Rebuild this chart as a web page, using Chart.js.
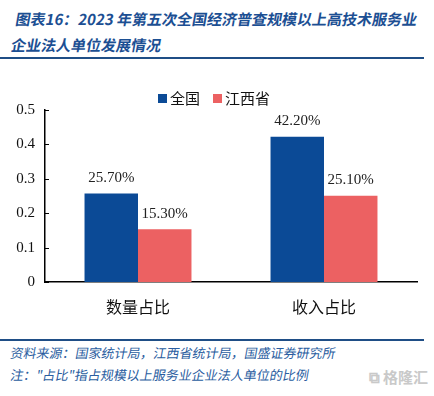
<!DOCTYPE html>
<html>
<head>
<meta charset="utf-8">
<script src="https://cdn.jsdelivr.net/npm/chart.js@4.4.1/dist/chart.umd.min.js"></script>
<style>
  html, body { margin:0; padding:0; background:#fff; }
  body { width:434px; height:396px; position:relative; overflow:hidden; font-family:"Noto Sans CJK SC", sans-serif; }
  .title { position:absolute; left:9px; top:6px; width:425px; color:#1c4f93; font-size:15px; font-weight:bold; line-height:26px; transform:skewX(-10deg); transform-origin:left bottom; white-space:nowrap; }
  .rule { position:absolute; left:0; width:424px; height:2px; background:#1f4e86; }
  .chartWrap { position:absolute; left:0; top:62px; width:434px; height:274px; }
  .legend { position:absolute; top:88px; left:158px; font-size:15px; color:#111; white-space:nowrap; line-height:20px; }
  .legend span.box { display:inline-block; width:9px; height:9px; margin-right:3px; vertical-align:1px; }
  .legend span.txt { margin-right:13px; }
  .foot { position:absolute; left:9px; color:#2a5da0; font-size:13px; transform:skewX(-10deg); transform-origin:left bottom; white-space:nowrap; }
  .wm { position:absolute; right:6px; top:366px; color:#c9c9c9; font-size:15px; font-weight:bold; }
</style>
</head>
<body>
<div class="title">图表16：2023 年第五次全国经济普查规模以上高技术服务业<br>企业法人单位发展情况</div>
<div class="rule" style="top:57px"></div>
<div class="chartWrap"><canvas id="chart"></canvas></div>
<div class="legend" id="legend"></div>
<div class="rule" style="top:339px"></div>
<div class="foot" style="top:343px">资料来源：国家统计局，江西省统计局，国盛证券研究所</div>
<div class="foot" style="top:365px">注："占比"指占规模以上服务业企业法人单位的比例</div>
<div class="wm">⧉ 格隆汇</div>
<script>
const categories = ["数量占比", "收入占比"];
const seriesNames = ["全国", "江西省"];
const seriesColors = ["#0b4a96", "#ec6162"];
const nationalValues = [0.257, 0.422];
const jiangxiValues = [0.153, 0.251];
const valueLabels = [["25.70%", "42.20%"], ["15.30%", "25.10%"]];
const yTicks = [0, 0.1, 0.2, 0.3, 0.4, 0.5];

// legend as html, easier to place
document.getElementById("legend").innerHTML = seriesNames.map((n, i) =>
  `<span class="box" style="background:${seriesColors[i]}"></span><span class="txt">${n}</span>`
).join("");

// labels above bars
const barLabels = {
  id: "barLabels",
  afterDatasetsDraw(chart){
    const ctx = chart.ctx;
    ctx.save();
    ctx.font = "15px 'Liberation Serif', serif";
    ctx.fillStyle = "#222";
    ctx.textAlign = "center";
    ctx.textBaseline = "bottom";
    chart.data.datasets.forEach((ds, i) => {
      chart.getDatasetMeta(i).data.forEach((bar, j) => {
        ctx.fillText(valueLabels[i][j], bar.x, bar.y - 8);
      });
    });
    ctx.restore();
  }
};

// inward tick marks on y axis
const innerTicks = {
  id: "innerTicks",
  afterDraw(chart){
    const y = chart.scales.y;
    const ctx = chart.ctx;
    ctx.save();
    ctx.strokeStyle = "#000";
    ctx.lineWidth = 1;
    yTicks.forEach(v => {
      const py = Math.round(y.getPixelForValue(v)) + 0.5;
      ctx.beginPath();
      ctx.moveTo(y.right, py);
      ctx.lineTo(y.right + 4, py);
      ctx.stroke();
    });
    ctx.restore();
  }
};

new Chart(document.getElementById("chart").getContext("2d"), {
  type: "bar",
  data: {
    labels: categories,
    datasets: [
      { label: seriesNames[0], data: nationalValues, backgroundColor: seriesColors[0] },
      { label: seriesNames[1], data: jiangxiValues, backgroundColor: seriesColors[1] }
    ]
  },
  options: {
    responsive: true,
    maintainAspectRatio: false,
    animation: false,
    layout: { padding: { left: 0, right: 17, top: 48, bottom: 0 } },
    plugins: {
      tooltip: { enabled: false },
      legend: { display: false }
    },
    datasets: { bar: { categoryPercentage: 0.575, barPercentage: 1.0 } },
    scales: {
      x: {
        afterFit: (s) => { s.height = 54; },
        grid: { display: false, drawTicks: false },
        border: { color: "#000", width: 1.5 },
        ticks: { color: "#111", padding: 15, font: { family: "'Noto Sans CJK SC', sans-serif", size: 16 } }
      },
      y: {
        min: 0, max: 0.5,
        afterBuildTicks: (s) => { s.ticks = yTicks.map(v => ({ value: v })); },
        afterFit: (s) => { s.width = 45; },
        grid: { display: false, drawTicks: false },
        border: { color: "#000", width: 1.5 },
        ticks: {
          color: "#111", padding: 10,
          font: { family: "'Liberation Serif', serif", size: 15 },
          callback: (v) => String(v)
        }
      }
    }
  },
  plugins: [barLabels, innerTicks]
});
</script>
</body>
</html>
